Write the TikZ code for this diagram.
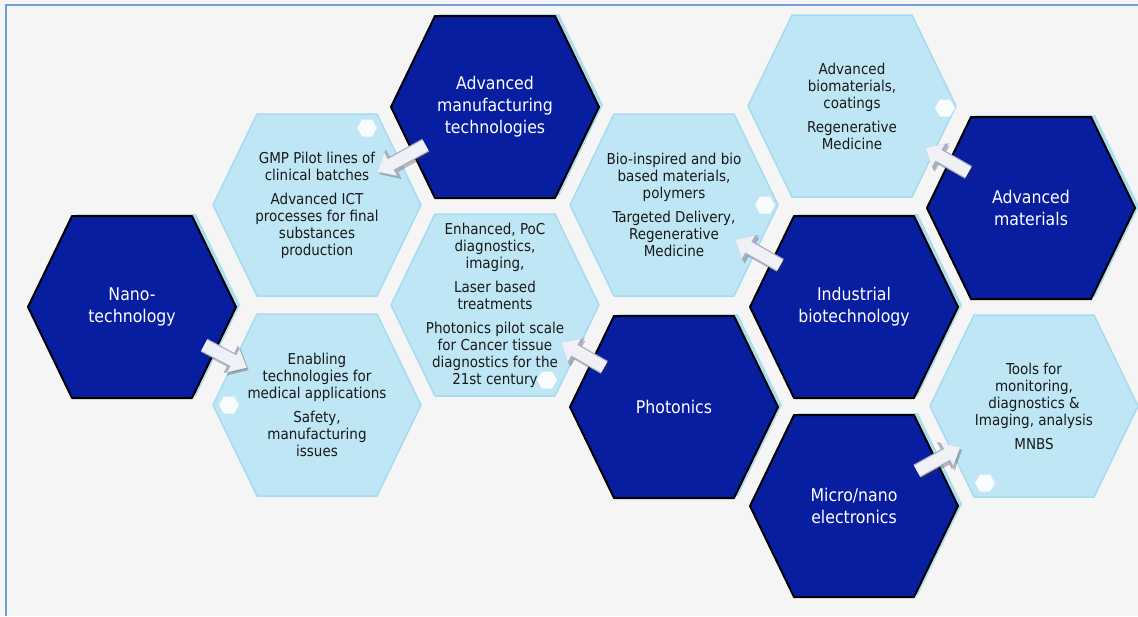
\documentclass[tikz,border=0pt]{standalone}
\usepackage{fontspec}
\setmainfont{DejaVu Sans Condensed}
\usetikzlibrary{calc,arrows.meta}

\definecolor{bgcol}{RGB}{245,245,245}
\definecolor{framecol}{RGB}{112,160,218}
\definecolor{deepblue}{RGB}{8,30,160}
\definecolor{halo}{RGB}{172,222,240}
\definecolor{paleblue}{RGB}{190,230,244}
\definecolor{paleedge}{RGB}{166,219,240}
\definecolor{txtgray}{RGB}{25,25,25}
\definecolor{arrowfill}{RGB}{240,241,246}
\definecolor{arrowedge}{RGB}{170,174,190}

% flat-topped hexagon around a named coordinate
\newcommand\hexshape[1]{(#1) ++(-104,0) -- ++(44,-91) -- ++(120,0) -- ++(44,91) -- ++(-44,91) -- ++(-120,0) -- cycle}
% small decorative hexagon
\newcommand\minihex[1]{(#1) ++(-10,0) -- ++(5,-8.5) -- ++(10,0) -- ++(5,8.5) -- ++(-5,8.5) -- ++(-10,0) -- cycle}

\tikzset{
  hubcell/.style={fill=deepblue, draw=black, line width=2pt, line join=round},
  hubhalo/.style={fill=halo},
  leafcell/.style={fill=paleblue, draw=paleedge, line width=1.5pt, line join=round},
  dotcell/.style={fill=white, opacity=0.9},
  hubtext/.style={text=white, align=center, font=\fontsize{17.5}{22}\selectfont},
  leaftext/.style={text=txtgray, align=center, font=\fontsize{15}{17}\selectfont},
  flowedge/.style={line width=14.5pt, draw=arrowedge, -{Triangle[width=30pt,length=18pt]}},
  flowarrow/.style={line width=12pt, draw=arrowfill, -{Triangle[width=25pt,length=15pt]}},
  flowshadow/.style={line width=14pt, draw=black!80, opacity=0.3, -{Triangle[width=29pt,length=17pt]}}
}

\begin{document}
\begin{tikzpicture}[x=1pt,y=-1pt]
  \useasboundingbox (0,0) rectangle (1138,616);
  \fill[bgcol] (0,0) rectangle (1138,616);
  \draw[framecol, line width=2pt] (6,616) -- (6,5) -- (1138,5);

  % cell centres
  \coordinate (c-nano)   at (132,307);
  \coordinate (c-advman) at (495,107);
  \coordinate (c-advmat) at (1031,208);
  \coordinate (c-indbio) at (854,307);
  \coordinate (c-phot)   at (674,407);
  \coordinate (c-micro)  at (854,506);
  \coordinate (c-gmp)    at (317,205);
  \coordinate (c-enab)   at (317,405);
  \coordinate (c-enh)    at (495,305);
  \coordinate (c-bio)    at (674,205);
  \coordinate (c-biomat) at (852,106);
  \coordinate (c-tools)  at (1034,406);

  % pale application cells
  \foreach \c in {gmp,enab,enh,bio,biomat,tools}
    \path[leafcell] \hexshape{c-\c};

  % technology cells with their light rim
  \foreach \c in {nano,advman,advmat,indbio,phot,micro}{
    \path[hubhalo] ([shift={(4,-2)}]c-\c) ++(-104,0) -- ++(44,-91) -- ++(120,0) -- ++(44,91) -- ++(-44,91) -- ++(-120,0) -- cycle;
    \path[hubcell] \hexshape{c-\c};
  }

  % technology labels
  \node[hubtext] (nano)   at (c-nano)   {Nano-\\technology};
  \node[hubtext] (advman) at (c-advman) {Advanced\\manufacturing\\technologies};
  \node[hubtext] (advmat) at (c-advmat) {Advanced\\materials};
  \node[hubtext] (indbio) at (c-indbio) {Industrial\\biotechnology};
  \node[hubtext] (phot)   at (c-phot)   {Photonics};
  \node[hubtext] (micro)  at (c-micro)  {Micro/nano\\electronics};

  % application labels
  \node[leaftext] (gmp) at (c-gmp) {GMP Pilot lines of\\clinical batches\\[7pt]Advanced ICT\\processes for final\\substances\\production};
  \node[leaftext] (enab) at (c-enab) {Enabling\\technologies for\\medical applications\\[7pt]Safety,\\manufacturing\\issues};
  \node[leaftext] (enh) at (c-enh) {Enhanced, PoC\\diagnostics,\\imaging,\\[7pt]Laser based\\treatments\\[7pt]Photonics pilot scale\\for Cancer tissue\\diagnostics for the\\21st century};
  \node[leaftext] (bio) at (c-bio) {Bio-inspired and bio\\based materials,\\polymers\\[7pt]Targeted Delivery,\\Regenerative\\Medicine};
  \node[leaftext] (biomat) at (c-biomat) {Advanced\\biomaterials,\\coatings\\[7pt]Regenerative\\Medicine};
  \node[leaftext] (tools) at (c-tools) {Tools for\\monitoring,\\diagnostics \&\\Imaging, analysis\\[7pt]MNBS};

  % small white hexagons
  \path[dotcell] \minihex{367,128};
  \path[dotcell] \minihex{229,405};
  \path[dotcell] \minihex{547,380};
  \path[dotcell] \minihex{765,205};
  \path[dotcell] \minihex{945,108};
  \path[dotcell] \minihex{985,483};

  % arrows from each technology to its applications
  \foreach \a/\b/\s/\e in {advman/gmp/0.39/0.66, nano/enab/0.39/0.62, phot/enh/0.39/0.63,
                           indbio/bio/0.41/0.66, advmat/biomat/0.35/0.59, micro/tools/0.35/0.59}{
    \draw[flowshadow, transform canvas={shift={(2pt,-2.5pt)}}] ($(\a)!\s!(\b)$) -- ($(\a)!\e!(\b)$);
    \draw[flowedge] ($(\a)!\s!(\b)$) -- ($(\a)!\e!(\b)$);
    \draw[flowarrow] ($(\a)!\s!(\b)$) -- ($(\a)!\e!(\b)$);
  }
\end{tikzpicture}
\end{document}
